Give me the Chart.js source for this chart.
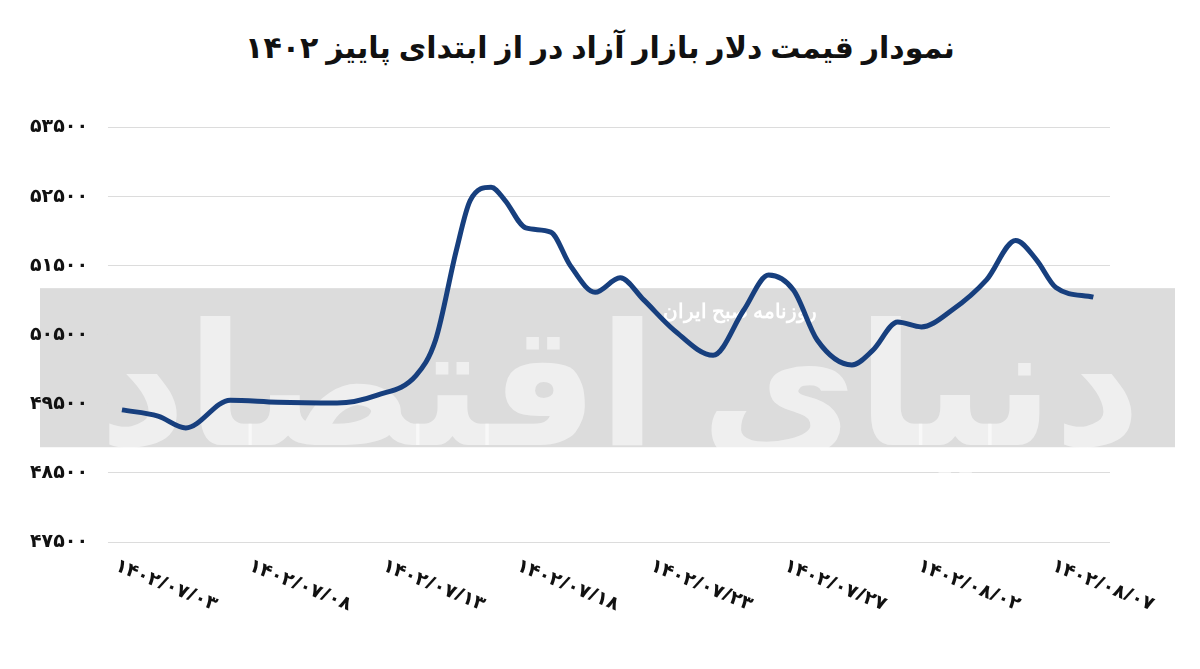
<!DOCTYPE html>
<html><head><meta charset="utf-8">
<script src="https://cdn.jsdelivr.net/npm/chart.js@4"></script>
<style>
html,body{margin:0;padding:0;background:#fff;}
#wrap{position:relative;width:1200px;height:669px;}
h1{position:absolute;top:26px;left:0;width:1200px;text-align:center;margin:0;font:bold 30px "Noto Sans","DejaVu Sans",sans-serif;color:#111;direction:rtl;}
canvas{position:absolute;top:0;left:0;}
</style></head><body>
<div id="wrap"><h1>نمودار قیمت دلار بازار آزاد در از ابتدای پاییز ۱۴۰۲</h1>
<canvas id="c" width="1200" height="669"></canvas></div>
<script>
const xLabels=["۱۴۰۲/۰۷/۰۳","۱۴۰۲/۰۷/۰۸","۱۴۰۲/۰۷/۱۳","۱۴۰۲/۰۷/۱۸","۱۴۰۲/۰۷/۲۳","۱۴۰۲/۰۷/۲۷","۱۴۰۲/۰۸/۰۲","۱۴۰۲/۰۸/۰۷"];
const xPos=[0,0.26,0.46,0.78,1.12,1.55,1.84,2.12,2.26,2.41,2.51,2.66,2.76,2.91,3.09,3.23,3.41,3.59,3.76,3.98,4.26,4.48,4.66,4.84,5.01,5.26,5.41,5.59,5.76,5.98,6.23,6.44,6.59,6.73,7.0];
const prices=[49410,49320,49150,49550,49520,49510,49625,49910,50420,51720,52440,52630,52440,52040,51980,51500,51110,51320,51000,50560,50200,50850,51360,51140,50420,50060,50270,50680,50610,50850,51290,51860,51580,51180,51040];
const yTicks=[47500,48500,49500,50500,51500,52500,53500];
const fa=n=>String(n).replace(/\d/g,d=>"۰۱۲۳۴۵۶۷۸۹"[d]);
const bg={id:'bg',beforeDraw(ch){const c=ch.ctx,y=ch.scales.y;c.save();c.fillStyle='#dcdcdc';const t=y.getPixelForValue(51170),b=y.getPixelForValue(48870);c.fillRect(40,t,1135,b-t);c.restore();},
beforeDatasetsDraw(ch){const c=ch.ctx;c.save();
c.font='bold 170px "Noto Sans","DejaVu Sans"';c.fillStyle='rgba(255,255,255,0.55)';c.textAlign='center';c.direction='rtl';c.fillText('دنیای اقتصاد',620,445);
c.font='bold 20px "Noto Sans"';c.fillStyle='#fff';c.fillText('روزنامه صبح ایران',740,318);c.restore();},
afterDraw(ch){const c=ch.ctx,x=ch.scales.x;c.save();c.font='bold 19px "Noto Sans","DejaVu Sans"';c.fillStyle='#111';c.direction='ltr';c.textAlign='left';
xLabels.forEach((l,i)=>{const px=x.getPixelForValue(i*135/140)-8;c.save();c.translate(px,570);c.rotate(22*Math.PI/180);c.fillText(l,0,0);c.restore();});c.restore();}};
new Chart(document.getElementById('c'),{type:'line',
data:{datasets:[{data:xPos.map((v,i)=>({x:v,y:prices[i]})),borderColor:'#173f7e',borderWidth:5,pointRadius:0,tension:0.4,cubicInterpolationMode:'monotone'}]},
options:{responsive:false,animation:false,layout:{padding:{top:127,left:10,right:90,bottom:119}},
plugins:{legend:{display:false},tooltip:{enabled:false}},
scales:{x:{type:'linear',min:-0.043,max:7.12,grid:{display:false},border:{display:false},ticks:{display:false}},
y:{min:47500,max:53500,afterBuildTicks(s){s.ticks=yTicks.map(v=>({value:v}));},border:{display:false},grid:{color:'#dcdcdc',lineWidth:1},
ticks:{padding:20,color:'#111',font:{family:'"Noto Sans","DejaVu Sans"',size:19,weight:'bold'},callback:v=>fa(v)}}}},
plugins:[bg]});
</script></body></html>
